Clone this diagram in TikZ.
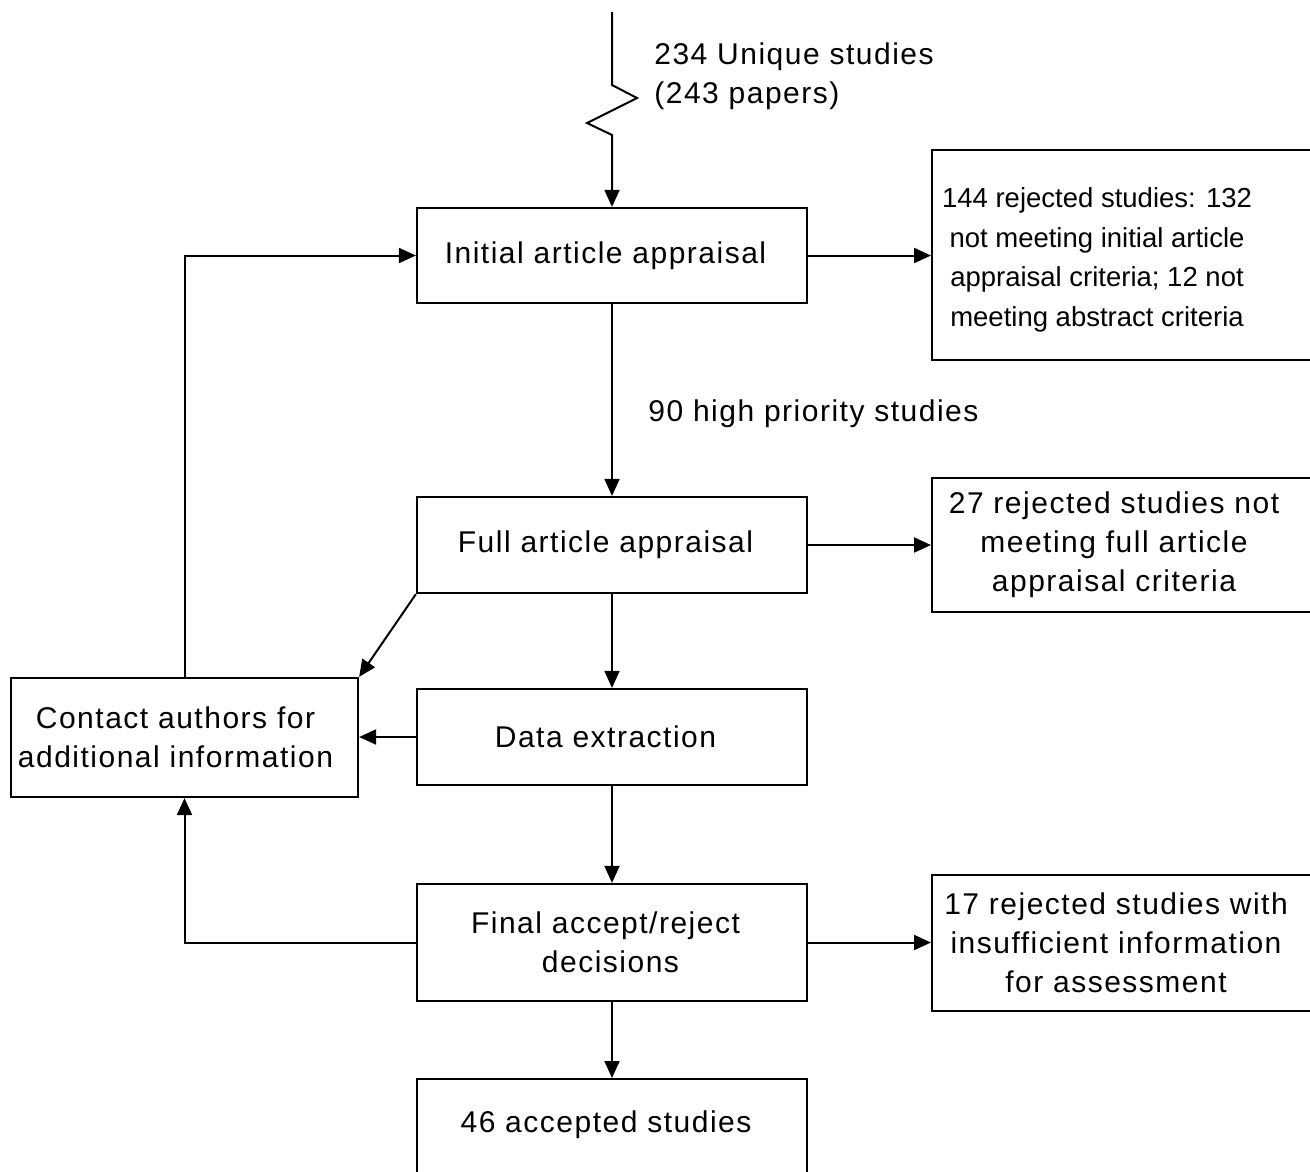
\documentclass[tikz,border=0pt]{standalone}
\usepackage{fontspec}
\setmainfont{Liberation Sans}
\newfontfamily\flowfont[LetterSpace=5]{Liberation Sans}
\usetikzlibrary{arrows.meta}

\begin{document}
\begin{tikzpicture}[x=1pt,y=-1pt,
  line width=2pt,
  flowtext/.style={font=\flowfont\fontsize{30}{39}\selectfont, align=center},
  smalltext/.style={font=\fontsize{27.5}{39.5}\selectfont, align=center},
  stage/.style={draw, line width=2.2pt, minimum width=390pt, inner sep=0pt, flowtext},
  sidebox/.style={draw, line width=2.2pt, minimum width=400pt, inner sep=0pt, anchor=west},
  arr/.style={-{Triangle[length=17pt,width=15pt]}}
]
\useasboundingbox (0,0) rectangle (1310,1171);
\clip (0,0) rectangle (1310,1171);

% main column of stages
\newcommand{\padr}{\hspace*{13pt}}
\node[stage, minimum height=95pt] (init) at (612,255.5) {Initial article appraisal\padr};
\node[stage, minimum height=96pt] (full) at (612,545) {Full article appraisal\padr};
\node[stage, minimum height=96pt] (data) at (612,737) {Data extraction\padr};
\node[stage, minimum height=117pt] (final) at (612,942.5) {Final accept/reject\padr\\decisions\hspace*{3pt}};
\node[stage, minimum height=140pt, anchor=north] (acc) at (612,1078) {};
\node[flowtext] (acctxt) at (606,1125) {46 accepted studies};

% feedback box on the left
\node[stage, minimum width=347pt, minimum height=119pt] (contact) at (184.5,737.5)
  {Contact authors for\hspace*{18pt}\\additional information\hspace*{18pt}};

% rejection boxes on the right
\node[sidebox, minimum height=210pt] (rej1) at (931,255) {};
\node[smalltext] at (1097,260) {144 rejected studies: 132\\not meeting initial article\\appraisal criteria; 12 not\\meeting abstract criteria};
\node[sidebox, minimum height=134pt] (rej2) at (931,545) {};
\node[flowtext] at (1114,545) {27 rejected studies not\\meeting full article\\appraisal criteria};
\node[sidebox, minimum height=136pt] (rej3) at (931,943) {};
\node[flowtext] at (1116,943) {17 rejected studies with\\insufficient information\\for assessment};

% incoming studies
\coordinate (src) at (612,12);
\node[flowtext, anchor=west, align=left] (srclbl) at (650,76) {234 Unique studies\\(243 papers)};
\draw[arr] (src) -- (612,85) -- (637,98) -- (587,123) -- (612,135) -- (init.north);

% forward flow
\draw[arr] (init) -- node[flowtext, anchor=west, pos=0.57, xshift=32pt] {90 high priority studies} (full);
\draw[arr] (full) -- (data);
\draw[arr] (data) -- (final);
\draw[arr] (final) -- (acc.north);

% rejections
\draw[arr] (init.east) -- (init.east -| rej1.west);
\draw[arr] (full.east) -- (full.east -| rej2.west);
\draw[arr] (final.east) -- (final.east -| rej3.west);

% requests for more information
\draw[arr] (full.south west) -- (contact.north east);
\draw[arr] (data.west) -- (data.west -| contact.east);
\draw[arr] (final.west) -| (contact.south);
\draw[arr] (contact.north) |- (init.west);
\end{tikzpicture}
\end{document}
